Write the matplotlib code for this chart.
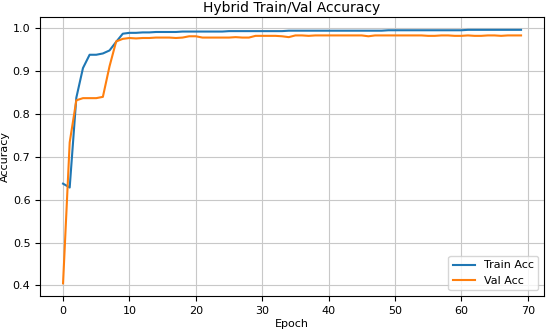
import numpy as np
import matplotlib.pyplot as plt

epochs = np.arange(70)

train_acc = [0.637, 0.628, 0.837, 0.906, 0.937, 0.937, 0.940, 0.947, 0.967, 0.986,
             0.988, 0.988, 0.989, 0.989, 0.990, 0.990, 0.990, 0.990, 0.991, 0.991,
             0.991, 0.991, 0.991, 0.991, 0.991, 0.992, 0.992, 0.992, 0.992, 0.992,
             0.992, 0.992, 0.992, 0.992, 0.993, 0.993, 0.993, 0.993, 0.993, 0.993,
             0.993, 0.993, 0.993, 0.993, 0.993, 0.993, 0.993, 0.993, 0.993, 0.994,
             0.994, 0.994, 0.994, 0.994, 0.994, 0.994, 0.994, 0.994, 0.994, 0.994,
             0.994, 0.995, 0.995, 0.995, 0.995, 0.995, 0.995, 0.995, 0.995, 0.995]

val_acc = [0.405, 0.733, 0.831, 0.836, 0.836, 0.836, 0.839, 0.910, 0.968, 0.974,
           0.976, 0.975, 0.976, 0.976, 0.977, 0.977, 0.977, 0.976, 0.977, 0.980,
           0.980, 0.977, 0.977, 0.977, 0.977, 0.977, 0.978, 0.977, 0.977, 0.981,
           0.981, 0.981, 0.981, 0.980, 0.978, 0.982, 0.982, 0.981, 0.982, 0.982,
           0.982, 0.982, 0.982, 0.982, 0.982, 0.982, 0.980, 0.982, 0.982, 0.982,
           0.982, 0.982, 0.982, 0.982, 0.982, 0.981, 0.981, 0.982, 0.982, 0.981,
           0.981, 0.982, 0.981, 0.981, 0.982, 0.982, 0.981, 0.982, 0.982, 0.982]

plt.figure(figsize=(5.5, 3.3), dpi=100)
plt.plot(epochs, train_acc, label='Train Acc', linewidth=1.5)
plt.plot(epochs, val_acc, label='Val Acc', linewidth=1.5)
plt.title('Hybrid Train/Val Accuracy', fontsize=10, pad=4)
plt.xlabel('Epoch', fontsize=8, labelpad=2)
plt.ylabel('Accuracy', fontsize=8, labelpad=2)
plt.xticks(fontsize=8)
plt.yticks(fontsize=8)
plt.grid(True, color='#c8c8c8')
plt.legend(loc='lower right', fontsize=8)
plt.subplots_adjust(left=0.073, right=0.989, top=0.948, bottom=0.103)
plt.savefig('out.png', dpi=100)
